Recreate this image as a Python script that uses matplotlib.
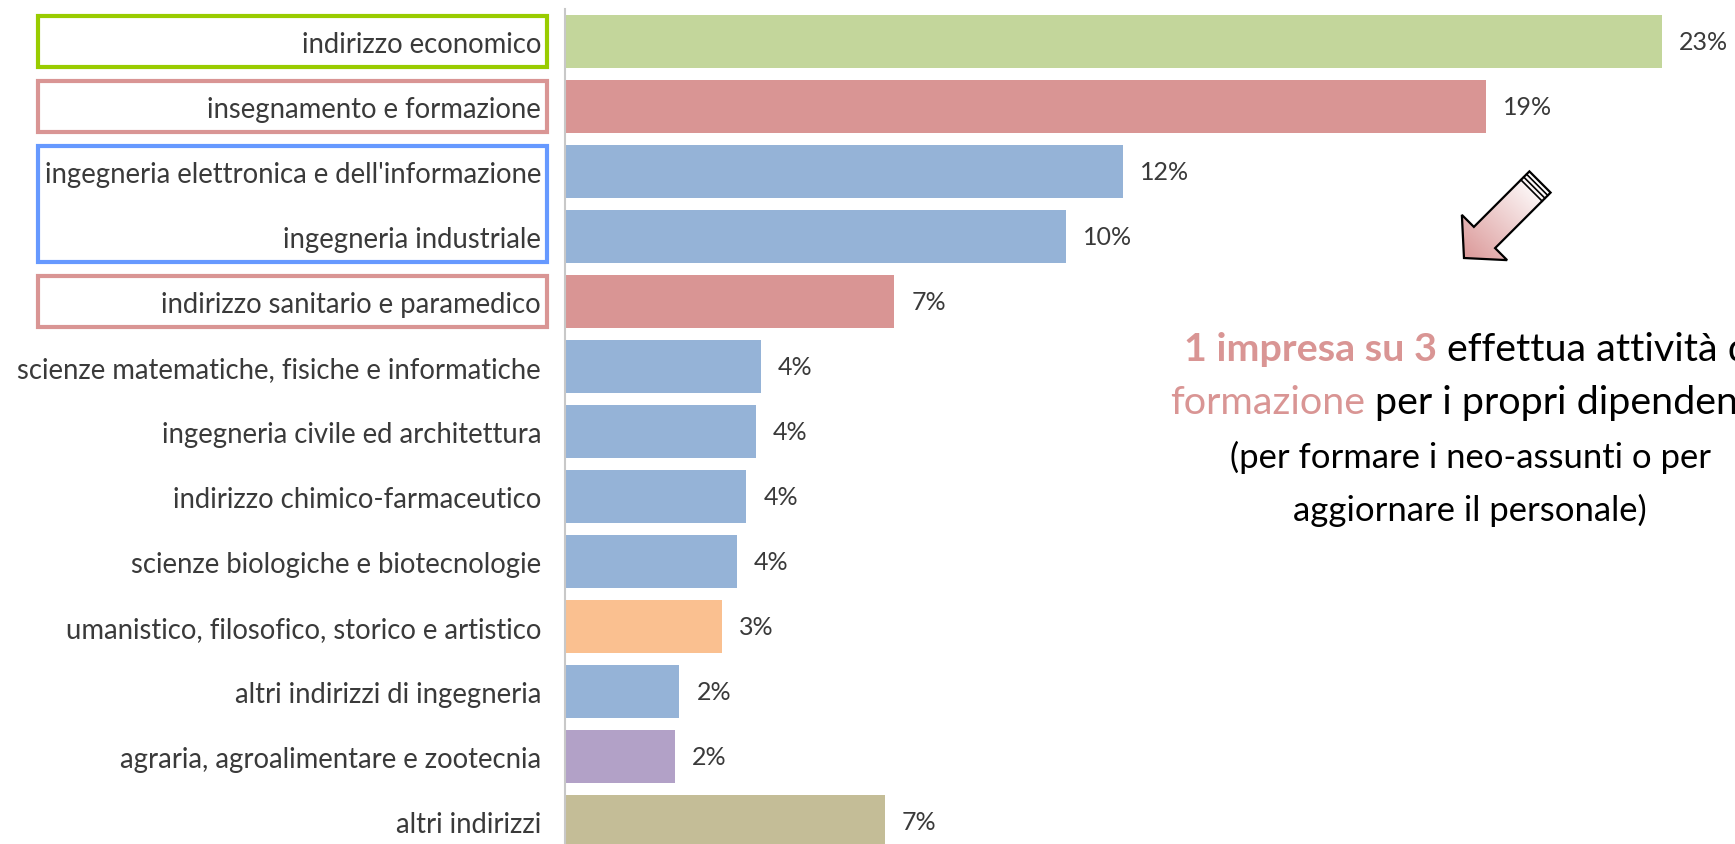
import matplotlib
matplotlib.use("Agg")
import matplotlib.pyplot as plt
import numpy as np
from matplotlib.patches import Polygon, Rectangle
from matplotlib.transforms import blended_transform_factory

# ---------------- data ----------------
categories = [
    "indirizzo economico",
    "insegnamento e formazione",
    "ingegneria elettronica e dell'informazione",
    "ingegneria industriale",
    "indirizzo sanitario e paramedico",
    "scienze matematiche, fisiche e informatiche",
    "ingegneria civile ed architettura",
    "indirizzo chimico-farmaceutico",
    "scienze biologiche e biotecnologie",
    "umanistico, filosofico, storico e artistico",
    "altri indirizzi di ingegneria",
    "agraria, agroalimentare e zootecnia",
    "altri indirizzi",
]
values = [23.0, 19.3, 11.7, 10.5, 6.9, 4.1, 4.0, 3.8, 3.6, 3.3, 2.4, 2.3, 6.7]
value_labels = ["23%", "19%", "12%", "10%", "7%", "4%", "4%", "4%", "4%",
                "3%", "2%", "2%", "7%"]
bar_colors = ["#C3D69B", "#D99594", "#95B3D7", "#95B3D7", "#D99594",
              "#95B3D7", "#95B3D7", "#95B3D7", "#95B3D7", "#FAC090",
              "#95B3D7", "#B2A1C7", "#C4BD97"]
# highlighted label groups: (first index, last index, colour)
groups = [(0, 0, "#99CC00"), (1, 1, "#D99594"), (2, 3, "#6699FF"), (4, 4, "#D99594")]

note_line1 = ("1 impresa su 3", " effettua attività di")
note_line2 = ("formazione", " per i propri dipendenti")
note_line3 = "(per formare i neo-assunti o per"
note_line4 = "aggiornare il personale)"

FONT = "Lato"
TXT = "#3A3A3A"
PINK = "#D99594"

# ---------------- figure ----------------
W, H = 1735, 845
fig = plt.figure(figsize=(W / 100, H / 100), dpi=100)
fig.canvas.draw()
renderer = fig.canvas.get_renderer()


def width_px(txt, size, weight="normal"):
    t = fig.text(0, 0, txt, fontsize=size, family=FONT, weight=weight)
    w = t.get_window_extent(renderer).width
    t.remove()
    return w


def fit(txt, target, weight="normal"):
    return 10 * target / width_px(txt, 10, weight)


px_per_unit = 47.7
ax = fig.add_axes([565 / W, 0, 1170 / W, 835 / H])
ypos = np.arange(len(categories))
ax.barh(ypos, values, height=0.815, color=bar_colors)
ax.set_xlim(0, 1170 / px_per_unit)
ax.set_ylim(12.346, -0.5)
for s in ["top", "right", "bottom"]:
    ax.spines[s].set_visible(False)
ax.spines["left"].set_color("#C8C8C8")
ax.spines["left"].set_linewidth(1.5)
ax.set_xticks([])

lab_fs = fit("scienze matematiche, fisiche e informatiche", 526)
ax.set_yticks(ypos)
ax.set_yticklabels(categories, fontsize=lab_fs, color=TXT, family=FONT)
ax.tick_params(axis="y", length=0, pad=24 * 0.72)

val_fs = fit("23%", 49)
for i, (v, lab) in enumerate(zip(values, value_labels)):
    ax.text(v + 17 / px_per_unit, i, lab, va="center", ha="left",
            fontsize=val_fs, color=TXT, family=FONT)

# ---------------- overlay in pixel coords ----------------
ov = fig.add_axes([0, 0, 1, 1], zorder=5)
ov.set_xlim(0, W)
ov.set_ylim(H, 0)
ov.axis("off")
ov.patch.set_visible(False)

blend = blended_transform_factory(ov.transData, ax.transData)
for i0, i1, col in groups:
    ov.add_patch(Rectangle((38, i0 - 0.39), 509, (i1 - i0) + 0.78,
                           fill=False, edgecolor=col, linewidth=3.0,
                           transform=blend, clip_on=False))

# arrow
c0 = np.array([1540.0, 183.0])
d = np.array([-1.0, 1.0]) / np.sqrt(2)
n = np.array([1.0, 1.0]) / np.sqrt(2)
base = c0 + 78.5 * d
tip = c0 + 107.5 * d
pts = [c0 + n * 15, base + n * 15, base + n * 32, tip,
       base - n * 32, base - n * 15, c0 - n * 15]
poly = Polygon(pts, closed=True, facecolor="none", edgecolor="black",
               linewidth=1.6, zorder=7)
xs = np.linspace(1440, 1570, 200)
ys = np.linspace(160, 280, 200)
X, Y = np.meshgrid(xs, ys)
s = ((X - c0[0]) * d[0] + (Y - c0[1]) * d[1]) / 107.5
s = np.clip(s, 0, 1)
c_start = np.array([1.0, 1.0, 1.0])
c_end = np.array([0.86, 0.60, 0.60])
img = c_start[None, None, :] * (1 - s[..., None]) + c_end[None, None, :] * s[..., None]
im = ov.imshow(img, extent=(1440, 1570, 280, 160), zorder=6, interpolation="bilinear")
clip = Polygon(pts, closed=True, transform=ov.transData, facecolor="none", edgecolor="none")
ov.add_patch(clip)
im.set_clip_path(clip)
ov.add_patch(poly)
for off in (4, 8, 12):
    p = c0 + off * d
    a, b = p + n * 15, p - n * 15
    ov.plot([a[0], b[0]], [a[1], b[1]], color="black", lw=1.2, zorder=8)
ov.set_xlim(0, W)
ov.set_ylim(H, 0)

# annotation text
big_fs = fit(note_line1[0], 253, weight="bold")
small_fs = fit(note_line3, 481)


def two_part(x, y, p1, p2, w1, size):
    ov.text(x, y, p1, fontsize=size, family=FONT, weight=w1, color=PINK,
            ha="left", va="center", zorder=9)
    w = width_px(p1, size, w1) + width_px(" x", size) - width_px("x", size)
    ov.text(x + w, y, p2.strip(), fontsize=size, family=FONT, color="black",
            ha="left", va="center", zorder=9)


two_part(1184, 350, note_line1[0], note_line1[1], "bold", big_fs)
two_part(1170, 403, note_line2[0], note_line2[1], "normal", big_fs)
ov.text(1470, 457, note_line3, fontsize=small_fs, family=FONT, color="black",
        ha="center", va="center", zorder=9)
ov.text(1470, 510, note_line4, fontsize=small_fs, family=FONT, color="black",
        ha="center", va="center", zorder=9)

fig.savefig("out.png", dpi=100)
